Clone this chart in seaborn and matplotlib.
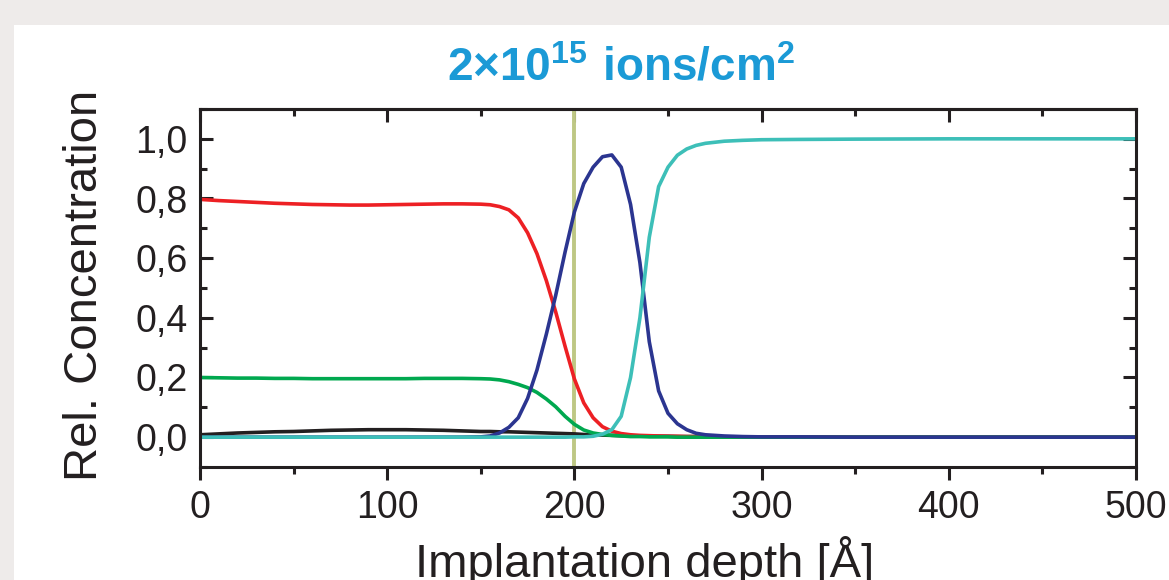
import matplotlib
matplotlib.use("Agg")
import matplotlib.pyplot as plt
import pandas as pd
import seaborn as sns
from matplotlib.patches import Rectangle
from matplotlib.ticker import FixedLocator, FixedFormatter, MultipleLocator

# Depth profile samples (Å) and relative concentrations of each species
depth = [0, 10, 20, 30, 40, 50, 60, 70, 80, 90, 100, 110, 120, 130, 140, 150,
         155, 160, 165, 170, 175, 180, 185, 190, 195, 200, 205, 210, 215, 220,
         225, 230, 235, 240, 245, 250, 255, 260, 265, 270,
         280, 290, 300, 320, 350, 400, 450, 500]

red = [0.797, 0.793, 0.790, 0.787, 0.784, 0.782, 0.780, 0.779, 0.778, 0.778,
       0.779, 0.780, 0.781, 0.782, 0.782, 0.781,
       0.779, 0.773, 0.762, 0.735, 0.685, 0.615, 0.525, 0.420, 0.305, 0.195,
       0.115, 0.065, 0.035, 0.020, 0.012, 0.008, 0.006, 0.005, 0.004, 0.003,
       0.003, 0.002, 0.002, 0.002,
       0.001, 0.001, 0.001, 0.001, 0.000, 0.000, 0.000, 0.000]

green = [0.200, 0.199, 0.198, 0.198, 0.197, 0.197, 0.196, 0.196, 0.196, 0.196,
         0.196, 0.196, 0.197, 0.197, 0.197, 0.196,
         0.195, 0.192, 0.186, 0.177, 0.166, 0.150, 0.128, 0.102, 0.070, 0.043,
         0.024, 0.014, 0.009, 0.006, 0.004, 0.002, 0.002, 0.001, 0.001, 0.001,
         0.000, 0.000, 0.000, 0.000,
         0.000, 0.000, 0.000, 0.000, 0.000, 0.000, 0.000, 0.000]

black = [0.008, 0.011, 0.014, 0.016, 0.018, 0.019, 0.021, 0.023, 0.024, 0.025,
         0.025, 0.025, 0.024, 0.023, 0.021, 0.019,
         0.019, 0.018, 0.018, 0.017, 0.016, 0.015, 0.014, 0.013, 0.012, 0.011,
         0.009, 0.008, 0.007, 0.006, 0.005, 0.004, 0.004, 0.003, 0.003, 0.003,
         0.002, 0.002, 0.002, 0.002,
         0.001, 0.001, 0.001, 0.001, 0.000, 0.000, 0.000, 0.000]

navy = [0.000, 0.000, 0.000, 0.000, 0.000, 0.000, 0.000, 0.000, 0.000, 0.000,
        0.000, 0.000, 0.000, 0.000, 0.000, 0.001,
        0.004, 0.014, 0.033, 0.065, 0.130, 0.225, 0.345, 0.475, 0.620, 0.755,
        0.850, 0.905, 0.940, 0.946, 0.905, 0.780, 0.585, 0.320, 0.155, 0.080,
        0.045, 0.025, 0.013, 0.008,
        0.004, 0.002, 0.001, 0.001, 0.000, 0.000, 0.000, 0.000]

teal = [0.000, 0.000, 0.000, 0.000, 0.000, 0.000, 0.000, 0.000, 0.000, 0.000,
        0.000, 0.000, 0.000, 0.000, 0.000, 0.000,
        0.000, 0.000, 0.000, 0.000, 0.000, 0.000, 0.000, 0.000, 0.000, 0.001,
        0.001, 0.003, 0.010, 0.025, 0.070, 0.200, 0.400, 0.670, 0.840, 0.905,
        0.945, 0.966, 0.978, 0.985,
        0.992, 0.995, 0.997, 0.998, 0.999, 1.000, 1.000, 1.000]

series_names = ["black", "red", "green", "navy", "teal"]
series_values = [black, red, green, navy, teal]
series_colors = ["#231f20", "#ed2024", "#00a84f", "#2b3590", "#3dbfb8"]

x_ticks = [0, 100, 200, 300, 400, 500]
x_tick_labels = ["0", "100", "200", "300", "400", "500"]
y_ticks = [0.0, 0.2, 0.4, 0.6, 0.8, 1.0]
y_tick_labels = ["0,0", "0,2", "0,4", "0,6", "0,8", "1,0"]
marker_depth = 200

title_text = r"$\mathbf{2{\times}10^{15}\ ions/cm^{2}}$"
x_label = "Implantation depth [Å]"
y_label = "Rel. Concentration"

sns.set_theme(style="white")
plt.rcParams["font.family"] = ["Liberation Sans", "DejaVu Sans"]
plt.rcParams["mathtext.fontset"] = "custom"
plt.rcParams["mathtext.rm"] = "Liberation Sans"
plt.rcParams["mathtext.bf"] = "Liberation Sans:bold"

INK = "#231f20"
W, H = 1169, 580

df = pd.concat(
    [pd.DataFrame({"depth": depth, "conc": vals, "species": name})
     for name, vals in zip(series_names, series_values)],
    ignore_index=True,
)

fig = plt.figure(figsize=(W / 100, H / 100), dpi=100)
fig.patch.set_facecolor("#eeebea")
fig.add_artist(Rectangle((14 / W, 0), 1, 1 - 25 / H, transform=fig.transFigure,
                         facecolor="white", edgecolor="none", zorder=0))

ax = fig.add_axes([200 / W, (H - 467) / H, 936 / W, 358 / H])
ax.set_facecolor("white")

# interface marker
ax.axvline(marker_depth, color="#bec784", lw=2.8, zorder=1.5)

sns.lineplot(data=df, x="depth", y="conc", hue="species",
             hue_order=series_names,
             palette=dict(zip(series_names, series_colors)),
             estimator=None, sort=False, lw=2.6, legend=False, ax=ax, zorder=2)

ax.set_xlim(0, 500)
ax.set_ylim(-0.1, 1.1)

ax.xaxis.set_major_locator(FixedLocator(x_ticks))
ax.xaxis.set_major_formatter(FixedFormatter(x_tick_labels))
ax.xaxis.set_minor_locator(MultipleLocator(50))
ax.yaxis.set_major_locator(FixedLocator(y_ticks))
ax.yaxis.set_major_formatter(FixedFormatter(y_tick_labels))
ax.yaxis.set_minor_locator(MultipleLocator(0.1))

ax.tick_params(axis="x", which="both", direction="out", bottom=True, top=False,
               width=2.2, color=INK, labelsize=27, labelcolor=INK, pad=7)
ax.tick_params(axis="y", which="both", direction="in", left=True, right=True,
               width=2.2, color=INK, labelsize=27, labelcolor=INK, pad=9)
ax.tick_params(which="major", length=9.5)
ax.tick_params(which="minor", length=5)

top = ax.secondary_xaxis("top")
top.xaxis.set_major_locator(FixedLocator(x_ticks))
top.xaxis.set_minor_locator(MultipleLocator(50))
top.tick_params(axis="x", which="both", direction="in", labeltop=False,
                width=2.2, color=INK)
top.tick_params(which="major", length=9.5)
top.tick_params(which="minor", length=5)
top.spines["top"].set_linewidth(2.2)
top.spines["top"].set_color(INK)

for side in ["left", "right", "top", "bottom"]:
    ax.spines[side].set_visible(True)
    ax.spines[side].set_linewidth(2.2)
    ax.spines[side].set_color(INK)

ax.set_xlabel(x_label, fontsize=34, color=INK)
ax.xaxis.label.set_verticalalignment("baseline")
ax.xaxis.set_label_coords(0.475, -0.307)

ax.set_ylabel(y_label, fontsize=34, color=INK)
ax.yaxis.label.set_verticalalignment("baseline")
ax.yaxis.set_label_coords(-0.110, 0.508)

fig.text(621 / W, 1 - 80 / H, title_text, ha="center", va="baseline",
         fontsize=33, color="#1b9ad6")

fig.savefig("out.png", dpi=100)
